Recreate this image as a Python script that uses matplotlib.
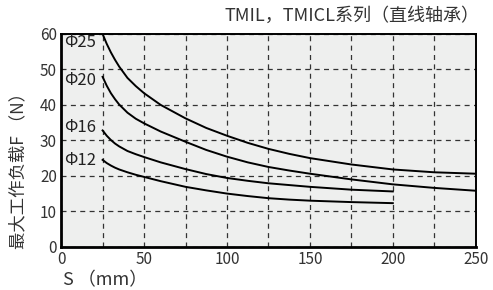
import numpy as np
from matplotlib import pyplot as plt

plt.rcParams['font.family'] = ['Noto Sans CJK SC', 'DejaVu Sans']

# stroke S (mm) and max working load F (N)
s_long = [25, 27.5, 30, 32.5, 35, 40, 45, 50, 60, 75, 87.5, 100, 112.5, 125, 137.5,
          150, 175, 200, 225, 250]
f_25 = [60, 57.2, 54.8, 52.7, 50.8, 47.6, 45.3, 43.3, 40.0, 36.2, 33.5, 31.3, 29.3,
        27.6, 26.2, 25.0, 23.2, 21.8, 21.0, 20.6]
f_20 = [47.9, 45.4, 43.3, 41.6, 40.1, 37.8, 36.1, 34.8, 32.5, 29.6, 27.3, 25.4, 23.8,
        22.5, 21.5, 20.6, 19.0, 17.6, 16.6, 15.8]

s_short = s_long[:18]
f_16 = [32.8, 31.3, 30.1, 29.1, 28.3, 27.0, 26.1, 25.3, 23.8, 21.9, 20.5, 19.4, 18.6,
        17.9, 17.4, 16.9, 16.1, 15.6]
f_12 = [24.5, 23.6, 22.9, 22.3, 21.8, 21.0, 20.3, 19.7, 18.5, 16.9, 15.9, 15.0, 14.3,
        13.7, 13.3, 13.0, 12.6, 12.3]

labels = ["Φ25", "Φ20", "Φ16", "Φ12"]
label_y = [57.5, 47, 33.5, 24.2]

fig = plt.figure(figsize=(4.93, 2.9), dpi=100)
ax = fig.add_axes([0.124, 0.149, 0.841, 0.734])
ax.set_facecolor("#eeefee")

for s, f in [(s_long, f_25), (s_long, f_20), (s_short, f_16), (s_short, f_12)]:
    ax.plot(s, f, color="black", lw=1.4, zorder=3, solid_joinstyle="round")

for lab, y in zip(labels, label_y):
    ax.text(2.0, y, lab, fontsize=12, color="#222222", va="center", ha="left")

ax.set_xlim(0, 250)
ax.set_ylim(0, 60)
ax.set_xticks(np.arange(0, 251, 25))
ax.set_xticklabels([str(v) if v % 50 == 0 else "" for v in range(0, 251, 25)])
ax.set_yticks(np.arange(0, 61, 10))
ax.tick_params(length=0, labelsize=11, labelcolor="#333333", pad=3)
ax.grid(True, color="#333333", linestyle=(0, (4, 3.5)), lw=0.9)
for sp in ax.spines.values():
    sp.set_linewidth(1.4)
    sp.set_color("black")
ax.spines["left"].set_linewidth(2)
ax.spines["bottom"].set_linewidth(2)

fig.text(0.972, 0.945, "TMIL，TMICL系列（直线轴承）", ha="right", va="center",
         fontsize=13, color="#333333")
fig.text(0.128, 0.033, "S （mm）", ha="left", va="center", fontsize=13, color="#333333")
fig.text(0.037, 0.14, "最大工作负载F （N）", rotation=90, ha="center", va="bottom",
         fontsize=12.5, color="#333333")

fig.savefig("out.png", dpi=100)
